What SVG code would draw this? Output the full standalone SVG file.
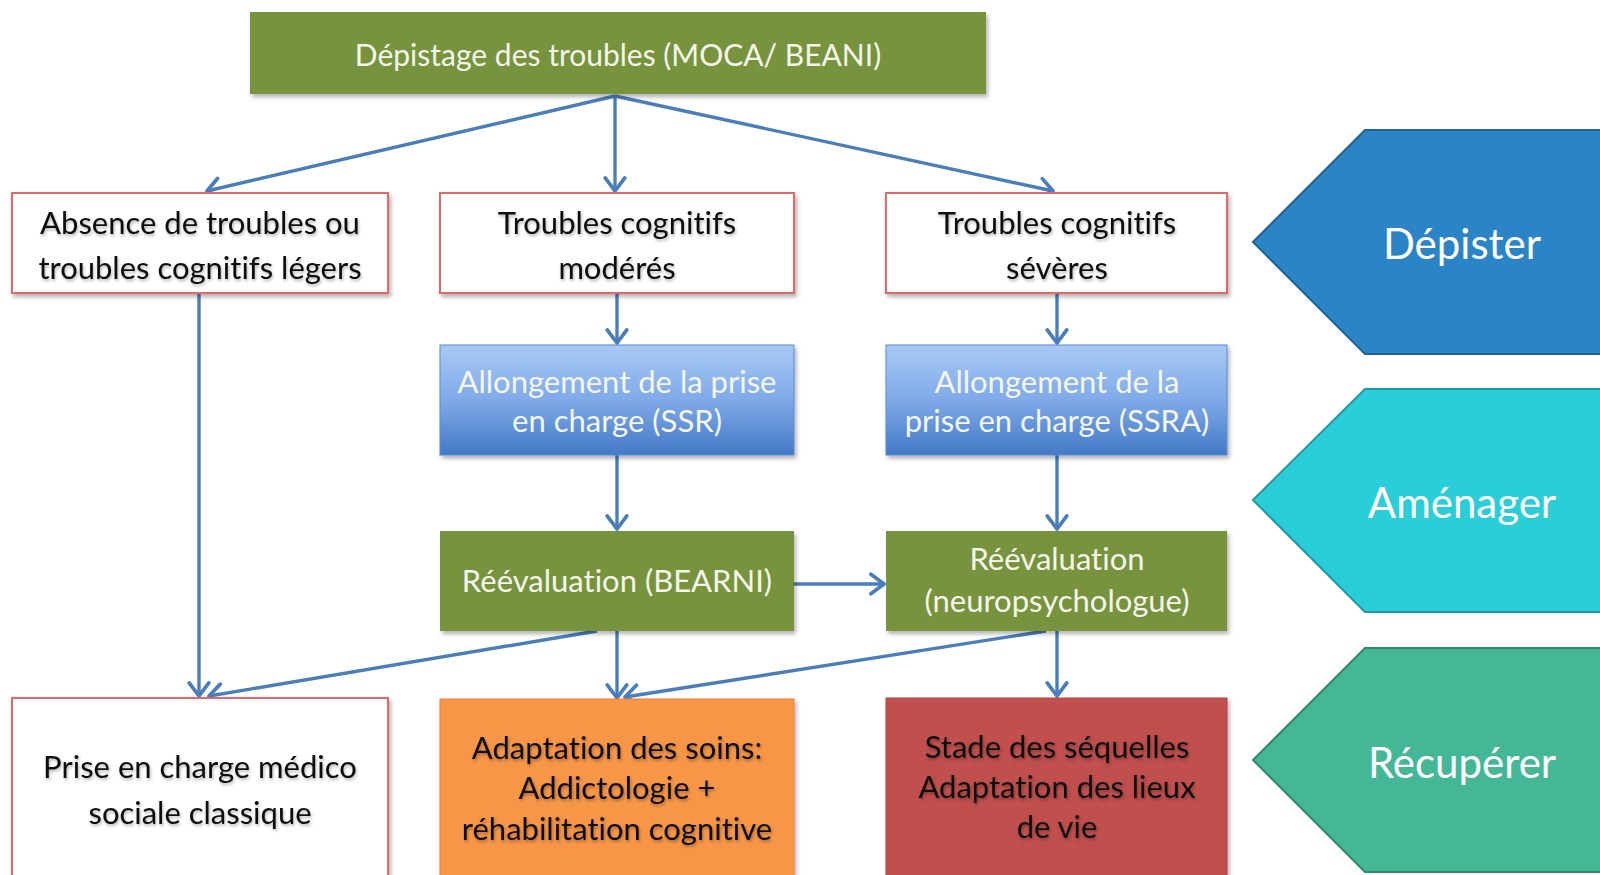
<svg xmlns="http://www.w3.org/2000/svg" width="1600" height="875" viewBox="0 0 1600 875">
  <defs>
    <style>
      .flow { font-family: Lato, "Open Sans", "Liberation Sans", sans-serif; font-size: 31px; text-anchor: middle; font-variant-ligatures: none; }
      .top { font-size: 30px; }
      .dark { fill: #111111; filter: url(#txtShadow); }
      .light { fill: #F4F6EC; }
      .outline { fill: #FFFFFF; stroke: #E4676A; stroke-width: 2; filter: url(#boxShadow); }
      .green { fill: #77933C; filter: url(#boxShadow); }
      .blue { fill: url(#blueGrad); stroke: #5B8BD0; stroke-width: 1; filter: url(#boxShadow); }
      .orange { fill: #F79646; stroke: #E9803A; stroke-width: 1; filter: url(#boxShadow); }
      .red { fill: #C0504D; stroke: #B04542; stroke-width: 1; filter: url(#boxShadow); }
      .conn { fill: none; stroke: #4A7EBB; stroke-width: 3.4; marker-end: url(#openArrow); }
      .phase { font-family: Lato, "Open Sans", "Liberation Sans", sans-serif; font-size: 42px; fill: #FFFFFF; text-anchor: middle; font-variant-ligatures: none; }
    </style>
    <linearGradient id="blueGrad" x1="0" y1="0" x2="0" y2="1">
      <stop offset="0" stop-color="#A8C9F4"/>
      <stop offset="0.5" stop-color="#7FAAE8"/>
      <stop offset="1" stop-color="#4379C7"/>
    </linearGradient>
    <filter id="boxShadow" x="-5%" y="-10%" width="115%" height="130%">
      <feDropShadow dx="2" dy="3" stdDeviation="2" flood-color="#000000" flood-opacity="0.3"/>
    </filter>
    <filter id="txtShadow" x="-5%" y="-20%" width="110%" height="150%">
      <feDropShadow dx="1" dy="2" stdDeviation="1.5" flood-color="#000000" flood-opacity="0.3"/>
    </filter>
    <marker id="openArrow" markerUnits="userSpaceOnUse" markerWidth="24" markerHeight="24" refX="15" refY="11" orient="auto" viewBox="0 0 20 22">
      <path d="M3,2 L15,11 L3,20" fill="none" stroke="#4A7EBB" stroke-width="3.4" stroke-linejoin="round" stroke-linecap="round"/>
    </marker>
  </defs>

  <rect width="1600" height="875" fill="#FFFFFF"/>

  <!-- connectors -->
  <g id="connectors">
    <path class="conn" d="M615,96 L207,191"/>
    <path class="conn" d="M615,96 L615,191"/>
    <path class="conn" d="M615,96 L1053,191"/>
    <path class="conn" d="M199,293 L199,696"/>
    <path class="conn" d="M617,293 L617,343"/>
    <path class="conn" d="M1057,293 L1057,343"/>
    <path class="conn" d="M617,455 L617,529"/>
    <path class="conn" d="M1057,455 L1057,529"/>
    <path class="conn" d="M794,584 L884,584"/>
    <path class="conn" d="M597,631 L209,696"/>
    <path class="conn" d="M617,631 L617,698"/>
    <path class="conn" d="M1046,631 L625,697"/>
    <path class="conn" d="M1057,631 L1057,696"/>
  </g>

  <!-- screening -->
  <g id="n-depistage">
    <rect class="green" x="250" y="12" width="736" height="82"/>
    <text class="flow top light" x="618" y="66">Dépistage des troubles (MOCA/ BEANI)</text>
  </g>

  <!-- first level outcomes -->
  <g id="n-absence">
    <rect class="outline" x="12" y="193" width="376" height="100"/>
    <text class="flow dark" x="200" y="234">Absence de troubles ou</text>
    <text class="flow dark" x="200" y="279">troubles cognitifs légers</text>
  </g>
  <g id="n-moderes">
    <rect class="outline" x="440" y="193" width="354" height="100"/>
    <text class="flow dark" x="617" y="234">Troubles cognitifs</text>
    <text class="flow dark" x="617" y="279">modérés</text>
  </g>
  <g id="n-severes">
    <rect class="outline" x="886" y="193" width="341" height="100"/>
    <text class="flow dark" x="1057" y="234">Troubles cognitifs</text>
    <text class="flow dark" x="1057" y="279">sévères</text>
  </g>

  <!-- extended care -->
  <g id="n-ssr">
    <rect class="blue" x="440" y="345" width="354" height="110"/>
    <text class="flow light" x="617" y="393">Allongement de la prise</text>
    <text class="flow light" x="617" y="432">en charge (SSR)</text>
  </g>
  <g id="n-ssra">
    <rect class="blue" x="886" y="345" width="341" height="110"/>
    <text class="flow light" x="1057" y="393">Allongement de la</text>
    <text class="flow light" x="1057" y="432">prise en charge (SSRA)</text>
  </g>

  <!-- re-assessment -->
  <g id="n-bearni">
    <rect class="green" x="440" y="531" width="354" height="100"/>
    <text class="flow light" x="617" y="592">Réévaluation (BEARNI)</text>
  </g>
  <g id="n-neuro">
    <rect class="green" x="886" y="531" width="341" height="100"/>
    <text class="flow light" x="1057" y="570">Réévaluation</text>
    <text class="flow light" x="1057" y="612">(neuropsychologue)</text>
  </g>

  <!-- final care paths -->
  <g id="n-medico">
    <rect class="outline" x="12" y="698" width="376" height="190"/>
    <text class="flow dark" x="200" y="778">Prise en charge médico</text>
    <text class="flow dark" x="200" y="824">sociale classique</text>
  </g>
  <g id="n-adaptation">
    <rect class="orange" x="440" y="699" width="354" height="190"/>
    <text class="flow dark" x="617" y="759">Adaptation des soins:</text>
    <text class="flow dark" x="617" y="799">Addictologie +</text>
    <text class="flow dark" x="617" y="840">réhabilitation cognitive</text>
  </g>
  <g id="n-sequelles">
    <rect class="red" x="886" y="698" width="341" height="190"/>
    <text class="flow dark" x="1057" y="758">Stade des séquelles</text>
    <text class="flow dark" x="1057" y="798">Adaptation des lieux</text>
    <text class="flow dark" x="1057" y="838">de vie</text>
  </g>

  <!-- phase banners -->
  <g id="p-depister">
    <path d="M1253,242 L1365,130 L1605,130 L1605,354 L1365,354 Z" fill="#2A84C6" stroke="#1F6497" stroke-width="2"/>
    <text class="phase" x="1462" y="259">Dépister</text>
  </g>
  <g id="p-amenager">
    <path d="M1253,500 L1365,389 L1605,389 L1605,612 L1365,612 Z" fill="#2ACED8" stroke="#1E9BA5" stroke-width="2"/>
    <text class="phase" x="1462" y="518">Aménager</text>
  </g>
  <g id="p-recuperer">
    <path d="M1253,760 L1365,648 L1605,648 L1605,872 L1365,872 Z" fill="#44B896" stroke="#2E8A6E" stroke-width="2"/>
    <text class="phase" x="1462" y="778">Récupérer</text>
  </g>
</svg>
